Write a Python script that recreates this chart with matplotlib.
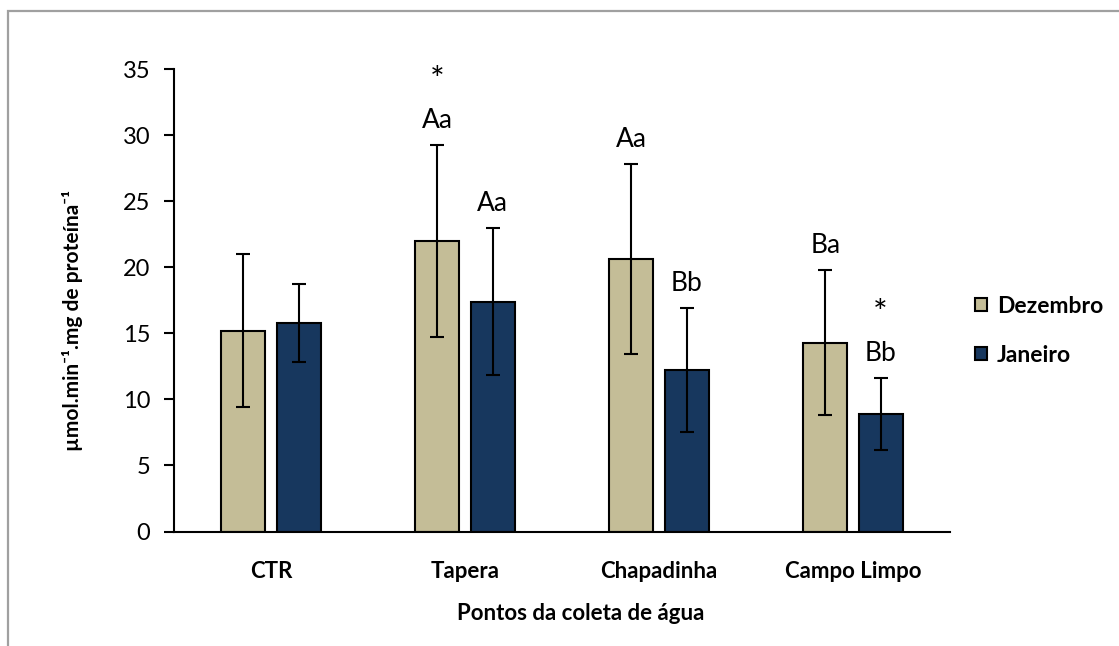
import matplotlib
matplotlib.use("Agg")
import matplotlib.pyplot as plt
from matplotlib.patches import Rectangle
import numpy as np

plt.rcParams['font.family'] = ['Lato', 'DejaVu Sans']

# Sampling sites and monthly enzyme activity (mean ± SD)
categories = ["CTR", "Tapera", "Chapadinha", "Campo Limpo"]
dez_mean = [15.2, 22.0, 20.65, 14.3]
dez_sd = [5.8, 7.25, 7.2, 5.5]
jan_mean = [15.8, 17.4, 12.2, 8.9]
jan_sd = [2.95, 5.55, 4.7, 2.7]

# Significance letters and markers placed above each bar
dez_letters = ["", "Aa", "Aa", "Ba"]
jan_letters = ["", "Aa", "Bb", "Bb"]
dez_star = [False, True, False, False]
jan_star = [False, False, False, True]

dez_color = "#c4bd97"
jan_color = "#17375e"

fig = plt.figure(figsize=(11.19, 6.46), dpi=100)
ax = fig.add_axes([0.1555, 0.1772, 0.6935, 0.7158])

x = np.arange(len(categories))
w = 0.227
off = 0.142

err_kw = dict(ecolor="black", elinewidth=1.5, capsize=5, capthick=1.5)
ax.bar(x - off, dez_mean, w, yerr=dez_sd, color=dez_color, edgecolor="black",
       linewidth=1.5, error_kw=err_kw, label="Dezembro")
ax.bar(x + off, jan_mean, w, yerr=jan_sd, color=jan_color, edgecolor="black",
       linewidth=1.5, error_kw=err_kw, label="Janeiro")

def annotate(xpos, means, sds, letters, stars):
    for xi, m, s, lab, st in zip(xpos, means, sds, letters, stars):
        y_lab = m + s + 1.85
        if lab:
            ax.text(xi, y_lab, lab, ha="center", va="center",
                    fontsize=19, clip_on=False)
        if st:
            ax.text(xi, y_lab + 3.0, "*", ha="center", va="center",
                    fontsize=25, clip_on=False)

annotate(x - off, dez_mean, dez_sd, dez_letters, dez_star)
annotate(x + off, jan_mean, jan_sd, jan_letters, jan_star)

ax.set_xlim(-0.5, len(categories) - 0.5)
ax.set_ylim(0, 35)
ax.set_yticks(range(0, 36, 5))
ax.set_xticks(x)
ax.set_xticklabels(categories, fontsize=16, fontweight="bold")
ax.tick_params(axis="x", length=0, pad=21)
ax.tick_params(axis="y", length=7, width=1.5, labelsize=17, pad=10, direction="out")

for side in ["top", "right"]:
    ax.spines[side].set_visible(False)
for side in ["left", "bottom"]:
    ax.spines[side].set_linewidth(1.5)

ax.set_xlabel("Pontos da coleta de água", fontsize=16, fontweight="bold")
ax.xaxis.set_label_coords(0.524, -0.155)
ax.set_ylabel("µmol.min⁻¹.mg de proteína⁻¹", fontsize=15, fontweight="bold")
ax.yaxis.set_label_coords(-0.117, 0.457)

leg = ax.legend(loc="center left", bbox_to_anchor=(0.853, 0.488),
                bbox_transform=fig.transFigure, frameon=False,
                prop=dict(size=16.5, weight="bold"), handlelength=0.5,
                handleheight=0.5, handletextpad=0.45, labelspacing=1.2)

# Outer chart frame
frame = Rectangle((8 / 1119, -0.2), 1.2, 1 - 11 / 646 + 0.2,
                  transform=fig.transFigure, fill=False,
                  edgecolor="#a0a0a0", linewidth=1.6, clip_on=False)
fig.patches.append(frame)

fig.savefig("out.png", dpi=100)
